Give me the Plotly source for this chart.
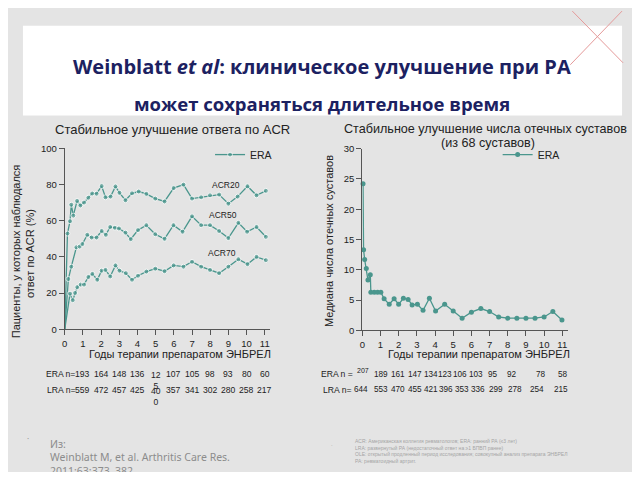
import plotly.graph_objects as go

# ---------------- data ----------------
acr20_x = [0, 0.15, 0.29, 0.36, 0.47, 0.68, 0.86, 1.06, 1.3, 1.51, 1.75, 2.03, 2.24, 2.52, 2.79, 3.01, 3.34,
           3.7, 4.07, 4.49, 4.98, 5.49, 5.99, 6.53, 7.0, 7.5, 7.99, 8.49, 9.0, 9.51, 10.05, 10.55, 11.06]
acr20_y = [0, 52.9, 59.7, 68.8, 62.8, 70.9, 68.4, 70.0, 72.7, 75.0, 74.9, 79.1, 72.9, 73.3, 78.9, 75.4, 71.3,
           75.1, 76.1, 74.8, 72.2, 70.6, 78.0, 79.9, 72.2, 72.9, 74.0, 74.4, 69.4, 73.3, 79.0, 74.0, 76.5]

acr50_x = [0, 0.2, 0.36, 0.64, 0.82, 0.97, 1.24, 1.48, 1.75, 2.03, 2.26, 2.5, 2.76, 2.98, 3.34, 3.63,
           4.03, 4.49, 4.98, 5.49, 5.98, 6.48, 7.0, 7.5, 7.99, 8.49, 9.0, 9.55, 10.03, 10.55, 11.06]
acr50_y = [0, 27.8, 34.6, 45.3, 45.7, 47.1, 52.2, 50.7, 50.7, 54.3, 52.2, 56.5, 56.1, 55.7, 53.4, 49.8,
           54.8, 57.5, 52.5, 50.0, 57.5, 53.9, 62.4, 57.5, 57.5, 54.3, 50.4, 58.8, 53.9, 56.5, 51.1]

acr70_x = [0, 0.29, 0.44, 0.57, 0.69, 0.88, 1.06, 1.3, 1.52, 1.79, 2.03, 2.24, 2.5, 2.79, 3.01, 3.36,
           3.7, 4.03, 4.49, 4.98, 5.49, 5.99, 6.53, 7.0, 7.5, 7.99, 8.49, 9.0, 9.55, 10.05, 10.55, 11.06]
acr70_y = [0, 19.7, 16.1, 20.1, 23.3, 24.7, 24.7, 28.9, 30.6, 27.4, 32.4, 32.8, 29.2, 35.3, 32.4, 31.0,
           27.4, 29.6, 31.9, 33.5, 32.1, 35.3, 34.6, 37.3, 34.6, 32.8, 31.0, 34.6, 38.7, 36.0, 40.0, 38.2]

sj_x = [0.04, 0.07, 0.13, 0.22, 0.31, 0.44, 0.47, 0.66, 0.84, 1.02, 1.2, 1.48, 1.75, 2.0, 2.26, 2.52, 2.74,
        3.03, 3.34, 3.69, 4.03, 4.53, 5.0, 5.49, 6.0, 6.52, 7.0, 7.5, 8.0, 8.5, 9.0, 9.5, 10.0, 10.48, 10.98]
sj_y = [24.2, 13.3, 11.7, 10.2, 8.3, 9.2, 6.3, 6.3, 6.3, 6.3, 5.2, 4.3, 5.2, 4.3, 5.3, 5.1, 4.2,
        4.3, 3.3, 5.3, 3.2, 4.3, 3.2, 2.0, 3.0, 3.6, 3.1, 2.2, 2.0, 2.0, 2.0, 2.0, 2.2, 3.1, 1.7]

left_y_ticks = [0, 20, 40, 60, 80, 100]
right_y_ticks = [0, 5, 10, 15, 20, 25, 30]
year_ticks = list(range(12))

left_era_n = [193, 164, 148, 136, 125, 107, 105, 98, 93, 80, 60]
left_lra_n = [559, 472, 457, 425, 400, 357, 341, 302, 280, 258, 217]
right_era_n = [207, 189, 161, 147, 134, 123, 106, 103, 95, 92, 78, 58]
right_lra_n = [644, 553, 470, 455, 421, 396, 353, 336, 299, 278, 254, 215]

# ---------------- style / layout ----------------
# the page body has an 8px margin, so the figure occupies 8..632 x 8..472
OFF = 8
W, H = 624, 464
TEAL = "#4a968d"
NAVY = "#1c2161"
TXT = "#222222"
GREY_BG = "#e4e4e4"
FONT = "Liberation Sans, Arial, sans-serif"


def px(x):
    return (x - OFF) / W


def py(y):
    return 1 - (y - OFF) / H


fig = go.Figure()

line = dict(color=TEAL, width=1.3)


def msizes(n, first_zero=True):
    s = [5] * n
    if first_zero:
        s[0] = 0
    return s


fig.add_trace(go.Scatter(x=acr20_x, y=acr20_y, mode="lines+markers", line=line, name="ERA",
                         marker=dict(color=TEAL, size=msizes(len(acr20_x))), showlegend=True,
                         legend="legend", xaxis="x", yaxis="y", cliponaxis=False))
fig.add_trace(go.Scatter(x=acr50_x, y=acr50_y, mode="lines+markers", line=line, name="ERA",
                         marker=dict(color=TEAL, size=msizes(len(acr50_x))), showlegend=False,
                         xaxis="x", yaxis="y", cliponaxis=False))
fig.add_trace(go.Scatter(x=acr70_x, y=acr70_y, mode="lines+markers", line=line, name="ERA",
                         marker=dict(color=TEAL, size=msizes(len(acr70_x))), showlegend=False,
                         xaxis="x", yaxis="y", cliponaxis=False))
fig.add_trace(go.Scatter(x=sj_x, y=sj_y, mode="lines+markers", line=line, name="ERA",
                         marker=dict(color=TEAL, size=5), showlegend=True, legend="legend2",
                         xaxis="x2", yaxis="y2", cliponaxis=False))

axis_common = dict(showline=True, linecolor="#555555", linewidth=1, ticks="outside", ticklen=5,
                   tickcolor="#555555", tickfont=dict(family=FONT, size=9.5, color=TXT),
                   showgrid=False, zeroline=False, fixedrange=True)

fig.update_layout(
    width=W, height=H, margin=dict(l=0, r=0, t=0, b=0),
    paper_bgcolor=GREY_BG, plot_bgcolor="rgba(0,0,0,0)",
    xaxis=dict(domain=[px(62), px(62 + 18.27 * 11.3)], range=[0, 11.3], tickvals=year_ticks,
               anchor="y", **axis_common),
    yaxis=dict(domain=[py(331), py(145.5)], range=[0, 100], tickvals=left_y_ticks, anchor="x",
               **axis_common),
    xaxis2=dict(domain=[px(361), px(361 + 18.27 * 11.3)], range=[0, 11.3], tickvals=year_ticks,
                anchor="y2", **axis_common),
    yaxis2=dict(domain=[py(332), py(146)], range=[0, 30], tickvals=right_y_ticks, anchor="x2",
                **axis_common),
    legend=dict(x=px(208), y=py(152), xanchor="left", yanchor="middle", bgcolor="rgba(0,0,0,0)",
                font=dict(family=FONT, size=10.5, color=TXT), itemwidth=30),
    legend2=dict(x=px(497), y=py(152), xanchor="left", yanchor="middle", bgcolor="rgba(0,0,0,0)",
                 font=dict(family=FONT, size=10.5, color=TXT), itemwidth=30),
)

shapes = [
    dict(type="rect", xref="paper", yref="paper", x0=px(20), x1=px(622), y0=py(112), y1=py(20),
         fillcolor="white", line=dict(width=0), layer="above"),
    dict(type="line", xref="paper", yref="paper", x0=px(572), y0=py(5), x1=px(623), y1=py(58),
         line=dict(color="#e59a9a", width=1)),
    dict(type="line", xref="paper", yref="paper", x0=px(622), y0=py(5), x1=px(570), y1=py(60),
         line=dict(color="#e59a9a", width=1)),
]
fig.update_layout(shapes=shapes)

ann = []


def text(x, y, s, size=10, color=TXT, family=FONT, xanchor="center", yanchor="middle", angle=0,
         xref="paper", align="center"):
    ann.append(dict(x=x if xref != "paper" else px(x), y=py(y), xref=xref, yref="paper", text=s,
                    showarrow=False, xanchor=xanchor, yanchor=yanchor, textangle=angle, align=align,
                    font=dict(size=size, color=color, family=family)))


TFONT = "Open Sans, Noto Sans, sans-serif"
text(321, 62, "<b>Weinblatt <i>et al</i>: клиническое улучшение при РА</b>", size=20, color=NAVY,
     family=TFONT)
text(320, 100, "<b>может сохраняться длительное время</b>", size=18.5, color=NAVY, family=TFONT)

text(170, 126, "Стабильное улучшение ответа по ACR", size=13)
text(485, 126, "Стабильное улучшение числа отечных суставов", size=12.6)
text(487, 140, "(из 68 суставов)", size=12.6)

text(13, 251, "Пациенты, у которых наблюдался", size=11, angle=-90)
text(27, 253, "ответ по ACR (%)", size=11, angle=-90)
text(327, 240, "Медиана числа отечных суставов", size=11, angle=-90)

text(178, 356, "Годы терапии препаратом ЭНБРЕЛ", size=11)
text(478, 356, "Годы терапии препаратом ЭНБРЕЛ", size=11)

text(224, 183, "ACR20", size=8.5)
text(221, 214, "ACR50", size=8.5)
text(220, 253, "ACR70", size=8.5)

NF = 8.6
# left n table
text(74, 377, "ERA n=", size=NF, xanchor="right")
text(74, 393, "LRA n=", size=NF, xanchor="right")
for i, (e, l) in enumerate(zip(left_era_n, left_lra_n)):
    yr = i + 1
    es, ls = str(e), str(l)
    if yr == 5:
        ann.append(dict(x=yr, xref="x", y=py(371), yref="paper", text=es[:2] + "<br>" + es[2:],
                        showarrow=False, xanchor="center", yanchor="top",
                        font=dict(size=NF, color=TXT, family=FONT)))
        ann.append(dict(x=yr, xref="x", y=py(387), yref="paper", text=ls[:2] + "<br>" + ls[2:],
                        showarrow=False, xanchor="center", yanchor="top",
                        font=dict(size=NF, color=TXT, family=FONT)))
    else:
        text(yr, 377, es, size=NF, xref="x")
        text(yr, 393, ls, size=NF, xref="x")

# right n table (label centres in page pixels)
right_era_pos = [362, 380, 397, 414, 430, 444, 459, 475, 492, 511, 541, 563]
right_lra_pos = [360, 380, 397, 414, 430, 445, 461, 477, 495, 514, 537, 561]
text(354, 377, "ERA n =", size=NF, xanchor="right")
text(352, 393, "LRA n=", size=NF, xanchor="right")
for i, (e, l) in enumerate(zip(right_era_n, right_lra_n)):
    if i == 0:
        text(right_era_pos[i], 373, str(e), size=7)
    else:
        text(right_era_pos[i], 377, str(e), size=8.2)
    text(right_lra_pos[i], 393, str(l), size=8.2)

# citation
CF = "Noto Sans, sans-serif"
text(25, 443, "·", size=8, color="#9a9a9a", family=CF)
text(45, 448, "Из:", size=10.5, color="#8c8c8c", family=CF, xanchor="left")
text(45, 462, "Weinblatt M, et al. Arthritis Care Res.", size=10.5, color="#8c8c8c", family=CF,
     xanchor="left")
text(45, 476, "2011;63:373–382.", size=10.5, color="#8c8c8c", family=CF, xanchor="left")

text(331, 449, "·", size=6, color="#a0a0a0", family=CF)
foot = ("ACR: Американская коллегия ревматологов; ERA: ранний РА (≤3 лет)<br>"
        "LRA: развернутый РА (недостаточный ответ на ≥1 БПВП ранее)<br>"
        "OLE: открытый продленный период исследования; совокупный анализ препарата ЭНБРЕЛ<br>"
        "РА: ревматоидный артрит.")
text(352, 456, foot, size=5, color="#a5a5a5", family=FONT, xanchor="left", align="left")

fig.update_layout(annotations=ann)
fig.write_html("out.html")
